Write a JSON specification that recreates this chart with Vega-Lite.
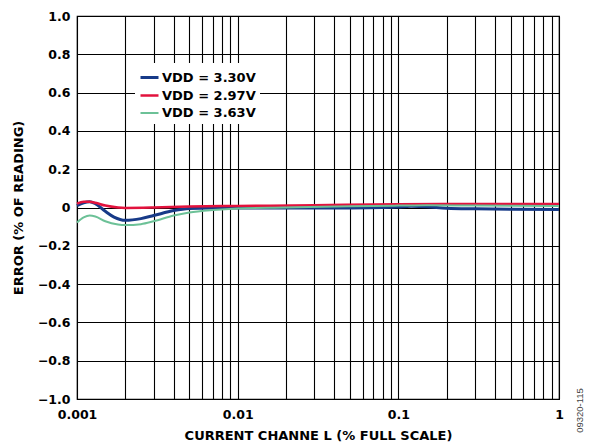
{
  "$schema": "https://vega.github.io/schema/vega-lite/v6.json",
  "width": 482,
  "height": 383,
  "autosize": {"type": "none"},
  "padding": {"left": 77, "top": 16, "right": 33, "bottom": 48},
  "background": "white",
  "title": {"text": "09320-115", "orient": "right", "anchor": "end", "angle": -90, "align": "center", "dx": 32, "fontSize": 9.5, "fontWeight": "normal", "font": "Liberation Sans", "color": "#444", "offset": 0},
  "config": {
    "view": {"stroke": "black", "strokeWidth": 1.2},
    "axis": {"labelFont": "DejaVu Sans", "labelFontWeight": "bold", "labelFontSize": 12.5, "labelColor": "black", "titleFont": "DejaVu Sans", "titleFontWeight": "bold", "titleFontSize": 13, "titleColor": "black", "domainColor": "black", "gridColor": "black", "gridOpacity": 1, "gridWidth": 1.1, "ticks": false}
  },
  "data": {"values": [
    {"x": 0.001, "y": 0.01, "s": "VDD = 3.30V"},
    {"x": 0.0011, "y": 0.025, "s": "VDD = 3.30V"},
    {"x": 0.0012, "y": 0.03, "s": "VDD = 3.30V"},
    {"x": 0.0013, "y": 0.02, "s": "VDD = 3.30V"},
    {"x": 0.0015, "y": -0.02, "s": "VDD = 3.30V"},
    {"x": 0.0017, "y": -0.05, "s": "VDD = 3.30V"},
    {"x": 0.002, "y": -0.067, "s": "VDD = 3.30V"},
    {"x": 0.0025, "y": -0.058, "s": "VDD = 3.30V"},
    {"x": 0.003, "y": -0.042, "s": "VDD = 3.30V"},
    {"x": 0.004, "y": -0.016, "s": "VDD = 3.30V"},
    {"x": 0.005, "y": -0.005, "s": "VDD = 3.30V"},
    {"x": 0.007, "y": -0.002, "s": "VDD = 3.30V"},
    {"x": 0.01, "y": -0.003, "s": "VDD = 3.30V"},
    {"x": 0.02, "y": -0.003, "s": "VDD = 3.30V"},
    {"x": 0.05, "y": -0.002, "s": "VDD = 3.30V"},
    {"x": 0.08, "y": 0.0, "s": "VDD = 3.30V"},
    {"x": 0.1, "y": 0.003, "s": "VDD = 3.30V"},
    {"x": 0.12, "y": 0.006, "s": "VDD = 3.30V"},
    {"x": 0.15, "y": 0.004, "s": "VDD = 3.30V"},
    {"x": 0.2, "y": -0.004, "s": "VDD = 3.30V"},
    {"x": 0.3, "y": -0.007, "s": "VDD = 3.30V"},
    {"x": 0.5, "y": -0.009, "s": "VDD = 3.30V"},
    {"x": 1, "y": -0.01, "s": "VDD = 3.30V"},
    {"x": 0.001, "y": 0.02, "s": "VDD = 2.97V"},
    {"x": 0.0011, "y": 0.03, "s": "VDD = 2.97V"},
    {"x": 0.0012, "y": 0.03, "s": "VDD = 2.97V"},
    {"x": 0.0013, "y": 0.025, "s": "VDD = 2.97V"},
    {"x": 0.0015, "y": 0.01, "s": "VDD = 2.97V"},
    {"x": 0.0018, "y": 0.0, "s": "VDD = 2.97V"},
    {"x": 0.002, "y": -0.002, "s": "VDD = 2.97V"},
    {"x": 0.003, "y": 0.0, "s": "VDD = 2.97V"},
    {"x": 0.005, "y": 0.005, "s": "VDD = 2.97V"},
    {"x": 0.01, "y": 0.008, "s": "VDD = 2.97V"},
    {"x": 0.03, "y": 0.012, "s": "VDD = 2.97V"},
    {"x": 0.1, "y": 0.017, "s": "VDD = 2.97V"},
    {"x": 0.3, "y": 0.018, "s": "VDD = 2.97V"},
    {"x": 1, "y": 0.018, "s": "VDD = 2.97V"},
    {"x": 0.001, "y": -0.078, "s": "VDD = 3.63V"},
    {"x": 0.0011, "y": -0.052, "s": "VDD = 3.63V"},
    {"x": 0.0012, "y": -0.042, "s": "VDD = 3.63V"},
    {"x": 0.0013, "y": -0.047, "s": "VDD = 3.63V"},
    {"x": 0.0015, "y": -0.072, "s": "VDD = 3.63V"},
    {"x": 0.0018, "y": -0.089, "s": "VDD = 3.63V"},
    {"x": 0.002, "y": -0.092, "s": "VDD = 3.63V"},
    {"x": 0.0025, "y": -0.087, "s": "VDD = 3.63V"},
    {"x": 0.003, "y": -0.072, "s": "VDD = 3.63V"},
    {"x": 0.004, "y": -0.042, "s": "VDD = 3.63V"},
    {"x": 0.005, "y": -0.026, "s": "VDD = 3.63V"},
    {"x": 0.007, "y": -0.013, "s": "VDD = 3.63V"},
    {"x": 0.01, "y": -0.005, "s": "VDD = 3.63V"},
    {"x": 0.02, "y": 0.0, "s": "VDD = 3.63V"},
    {"x": 0.05, "y": 0.007, "s": "VDD = 3.63V"},
    {"x": 0.1, "y": 0.01, "s": "VDD = 3.63V"},
    {"x": 0.15, "y": 0.012, "s": "VDD = 3.63V"},
    {"x": 0.3, "y": 0.01, "s": "VDD = 3.63V"},
    {"x": 1, "y": 0.008, "s": "VDD = 3.63V"}
  ]},
  "mark": {"type": "line", "interpolate": "monotone"},
  "encoding": {
    "x": {"field": "x", "type": "quantitative",
      "scale": {"type": "log", "domain": [0.001, 1], "nice": false},
      "axis": {"title": "CURRENT CHANNE L (% FULL SCALE)", "values": [0.001,0.002,0.003,0.004,0.005,0.006,0.007,0.008,0.009,0.01,0.02,0.03,0.04,0.05,0.06,0.07,0.08,0.09,0.1,0.2,0.3,0.4,0.5,0.6,0.7,0.8,0.9,1],
        "labelExpr": "datum.value==0.001?'0.001':datum.value==0.01?'0.01':datum.value==0.1?'0.1':datum.value==1?'1':''",
        "labelOverlap": false, "labelFlush": false, "labelPadding": 9, "titlePadding": 9, "grid": true}},
    "y": {"field": "y", "type": "quantitative",
      "scale": {"domain": [-1, 1], "nice": false},
      "axis": {"title": "ERROR (% OF READING)", "values": [-1,-0.8,-0.6,-0.4,-0.2,0,0.2,0.4,0.6,0.8,1],
        "labelExpr": "datum.value==0?'0':format(datum.value,'.1f')",
        "labelPadding": 7, "titlePadding": 12, "grid": true}},
    "color": {"field": "s", "type": "nominal", "sort": null,
      "scale": {"domain": ["VDD = 3.30V", "VDD = 2.97V", "VDD = 3.63V"], "range": ["#173a88", "#e2123d", "#6cc197"]},
      "legend": {"title": null, "orient": "none", "legendX": 58, "legendY": 47, "fillColor": "white", "padding": 4,
        "symbolType": "stroke", "symbolSize": 324, "symbolStrokeWidth": 2.5,
        "labelFont": "DejaVu Sans", "labelFontWeight": "bold", "labelFontSize": 13, "labelColor": "black", "labelOffset": 2, "rowPadding": 0}},
    "strokeWidth": {"field": "s", "type": "nominal", "sort": null,
      "scale": {"domain": ["VDD = 3.30V", "VDD = 2.97V", "VDD = 3.63V"], "range": [3, 2, 1.6]},
      "legend": null}
  }
}
